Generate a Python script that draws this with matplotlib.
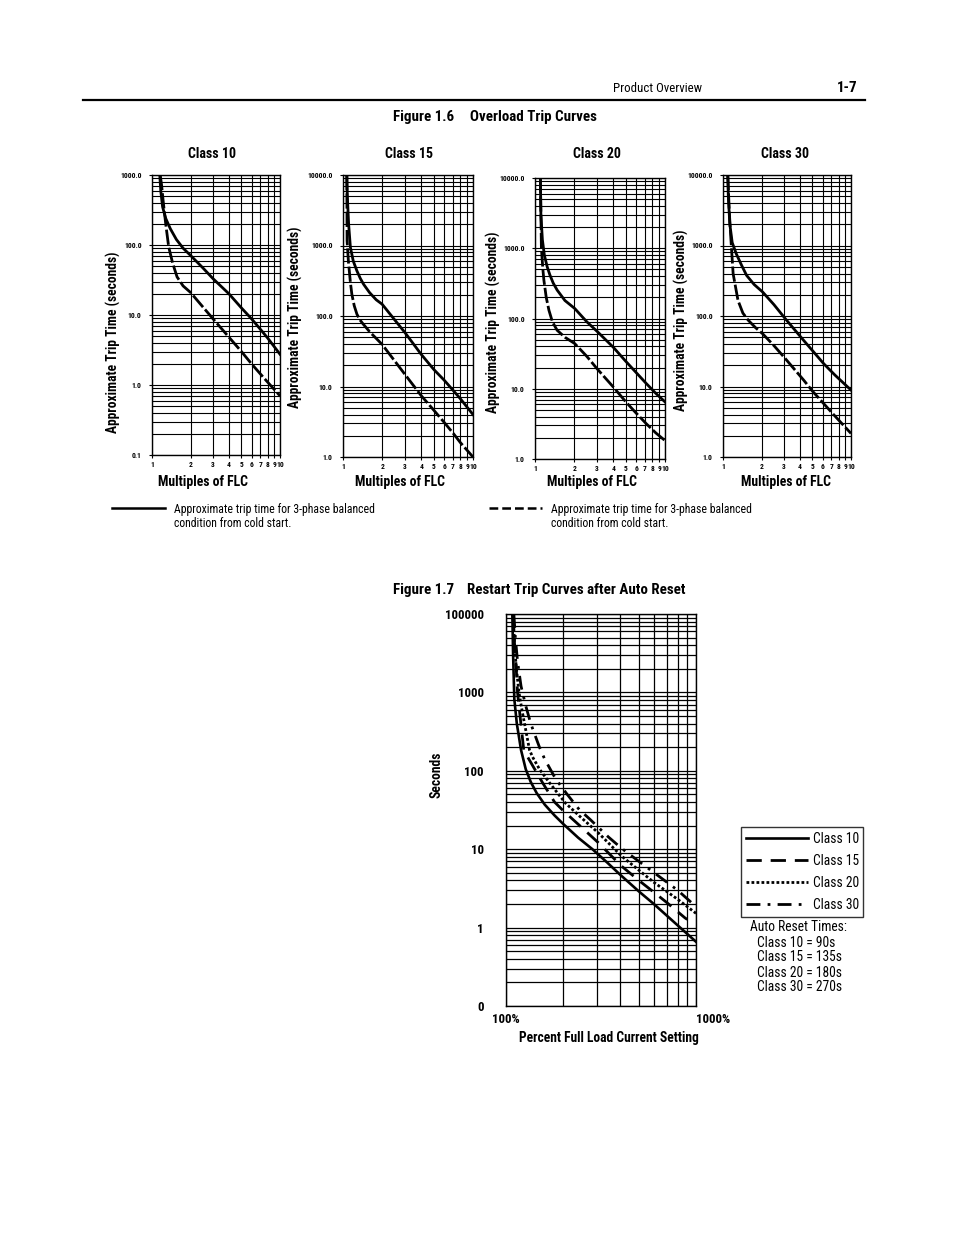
import matplotlib
matplotlib.use('Agg')
import matplotlib.pyplot as plt
from matplotlib import font_manager
from matplotlib.lines import Line2D
from matplotlib.ticker import LogLocator, NullFormatter, FixedLocator, FixedFormatter

# the scan uses a condensed Helvetica; take a narrow face if one is installed
installed = {f.name for f in font_manager.fontManager.ttflist}
narrow = [n for n in ['Liberation Sans Narrow', 'Roboto Condensed', 'DejaVu Sans Condensed',
                      'Open Sans Condensed', 'Noto Sans Condensed'] if n in installed]
if narrow:
    plt.rcParams['font.family'] = [narrow[0], 'DejaVu Sans']
    FS = 1.08
else:
    plt.rcParams['font.family'] = ['Liberation Sans', 'DejaVu Sans']
    FS = 0.86

# ---- Figure 1.6 data: (multiple of FLC, trip time s), cold = solid, hot = dashed
c10_cold_x = [1.15, 1.17, 1.21, 1.28, 1.39, 1.55, 1.75, 2.0, 2.5, 3.0, 4.0, 5.0, 6.0, 7.0, 8.0, 10.0]
c10_cold_y = [1000, 600, 350, 240, 171, 120, 90, 71, 47, 33, 20, 12.6, 8.8, 6.3, 4.7, 2.75]
c10_hot_x = [1.16, 1.19, 1.22, 1.28, 1.35, 1.45, 1.57, 1.75, 2.0, 2.5, 3.0, 4.0, 5.0, 6.0, 7.0, 8.0, 10.0]
c10_hot_y = [1000, 700, 440, 200, 94, 55, 35, 26, 21, 13, 8.8, 4.8, 3.0, 2.0, 1.45, 1.1, 0.70]

c15_cold_x = [1.07, 1.08, 1.105, 1.14, 1.2, 1.28, 1.36, 1.44, 1.6, 1.8, 2.0, 2.5, 3.0, 4.0, 5.0, 6.0, 7.0, 8.0, 10.0]
c15_cold_y = [10000, 5000, 2000, 940, 600, 436, 340, 282, 215, 170, 147, 88, 58, 28.5, 17.4, 12.3, 8.9, 6.7, 4.0]
c15_hot_x = [1.07, 1.075, 1.1, 1.14, 1.17, 1.22, 1.28, 1.35, 1.42, 1.6, 2.0, 2.5, 3.0, 4.0, 5.0, 6.0, 7.0, 8.0, 10.0]
c15_hot_y = [10000, 1170, 600, 300, 203, 140, 106, 88, 78, 60, 39.5, 23, 14.8, 7.4, 4.6, 3.1, 2.2, 1.6, 1.0]

c20_cold_x = [1.10, 1.11, 1.14, 1.18, 1.24, 1.3, 1.38, 1.48, 1.7, 2.02, 2.5, 3.03, 4.0, 5.0, 6.0, 7.2, 8.5, 10.0]
c20_cold_y = [10000, 3000, 1320, 800, 547, 420, 320, 254, 180, 139, 90, 64.6, 39, 24.5, 17, 11.8, 8.6, 6.5]
c20_hot_x = [1.10, 1.12, 1.15, 1.17, 1.22, 1.28, 1.36, 1.48, 1.7, 2.02, 2.5, 3.0, 4.0, 5.0, 6.0, 7.2, 8.5, 10.0]
c20_hot_y = [10000, 1000, 500, 353, 200, 131, 90, 68, 54, 44, 29, 19.3, 10.6, 6.5, 4.5, 3.16, 2.35, 1.83]

c30_cold_x = [1.09, 1.1, 1.13, 1.18, 1.27, 1.4, 1.53, 1.75, 2.04, 2.5, 3.06, 4.27, 5.0, 6.13, 7.5, 10.0]
c30_cold_y = [10000, 5000, 2026, 1100, 762, 520, 376, 280, 219, 145, 92, 45, 32.3, 21, 14.5, 8.9]
c30_hot_x = [1.09, 1.12, 1.15, 1.2, 1.31, 1.43, 1.57, 1.8, 2.04, 2.5, 3.06, 4.27, 5.0, 6.13, 7.5, 10.0]
c30_hot_y = [10000, 3000, 1313, 398, 166, 110, 87.6, 68, 56, 38, 25, 12.3, 8.6, 5.7, 3.8, 2.16]

small_titles = ['Class 10', 'Class 15', 'Class 20', 'Class 30']
small_ylims = [(0.1, 1000), (1, 10000), (1, 10000), (1, 10000)]
x_tick_vals = [1, 2, 3, 4, 5, 6, 7, 8, 9, 10]

# ---- Figure 1.7 data: (multiple of FLC, seconds) for restart curves
r10_x = [1.08, 1.09, 1.106, 1.14, 1.175, 1.2, 1.27, 1.35, 1.45, 1.6, 1.8, 2.0, 2.4, 2.85, 3.4, 4.0, 5.0, 6.0, 8.0, 10.0]
r10_y = [10000, 3000, 822, 400, 254, 184, 105, 72, 52, 37, 27, 21, 14, 10, 6.8, 4.7, 2.9, 2.0, 1.07, 0.66]
r15_x = [1.09, 1.11, 1.13, 1.15, 1.175, 1.24, 1.3, 1.4, 1.56, 1.8, 2.0, 2.5, 3.05, 4.05, 5.0, 6.03, 7.0, 8.75, 9.0]
r15_y = [10000, 4000, 2190, 1000, 612, 184, 150, 110, 70, 40, 31, 19, 12.2, 6.1, 4.0, 2.8, 2.1, 1.33, 1.27]
r20_x = [1.09, 1.11, 1.13, 1.17, 1.22, 1.33, 1.38, 1.5, 1.69, 2.05, 2.5, 3.05, 4.05, 5.0, 6.03, 8.0, 10.0]
r20_y = [10000, 4000, 2190, 1000, 555, 184, 150, 105, 71, 39, 25, 16.3, 8.2, 5.4, 3.75, 2.3, 1.52]
r30_x = [1.10, 1.12, 1.15, 1.2, 1.27, 1.35, 1.5, 1.6, 1.83, 2.1, 2.43, 2.77, 3.45, 4.05, 5.0, 6.03, 8.0, 10.0]
r30_y = [10000, 5000, 2500, 1200, 676, 400, 200, 140, 78, 50, 32, 24, 14.4, 10.3, 7.0, 5.0, 3.0, 1.85]
restart_labels = ['Class 10', 'Class 15', 'Class 20', 'Class 30']
restart_ytick_vals = [0.1, 1, 10, 100, 1000, 10000]
restart_ytick_text = ['0', '1', '10', '100', '1000', '100000']
reset_times = ['Class 10 = 90s', 'Class 15 = 135s', 'Class 20 = 180s', 'Class 30 = 270s']

W, H = 954, 1235


def box(l, t, r, b):
    """pixel box -> figure fraction rect"""
    return [l / W, 1 - b / H, (r - l) / W, (b - t) / H]


def fx(x):
    return x / W


def fy(y):
    return 1 - y / H


fig = plt.figure(figsize=(W / 100, H / 100), dpi=100)
fig.patch.set_facecolor('white')

# header
fig.text(fx(613), fy(88), 'Product Overview', fontsize=8.6 * FS, ha='left', va='center')
fig.text(fx(858), fy(88), '1-7', fontsize=10 * FS, fontweight='bold', ha='right', va='center')
fig.add_artist(Line2D([fx(83), fx(865)], [fy(100), fy(100)], color='black', lw=1.6))

fig.text(fx(393), fy(117), 'Figure 1.6', fontsize=10 * FS, fontweight='bold', ha='left', va='center')
fig.text(fx(470), fy(117), 'Overload Trip Curves', fontsize=10 * FS, fontweight='bold',
         ha='left', va='center')

small_boxes = [(152, 175, 280, 455), (343, 175, 473, 457), (535, 178, 665, 459), (723, 175, 851, 457)]
title_x = [212, 409, 597, 785]
ylab_x = [113, 295, 493, 681]
ylab_y = [342, 317, 322, 320]
flc_x = [203, 400, 592, 786]

cold_sets = [(c10_cold_x, c10_cold_y), (c15_cold_x, c15_cold_y), (c20_cold_x, c20_cold_y), (c30_cold_x, c30_cold_y)]
hot_sets = [(c10_hot_x, c10_hot_y), (c15_hot_x, c15_hot_y), (c20_hot_x, c20_hot_y), (c30_hot_x, c30_hot_y)]

for i in range(4):
    ax = fig.add_axes(box(*small_boxes[i]))
    ax.set_xscale('log')
    ax.set_yscale('log')
    ax.set_xlim(1, 10)
    ax.set_ylim(*small_ylims[i])

    cx, cy = cold_sets[i]
    hx, hy = hot_sets[i]
    ax.plot(cx, cy, color='black', lw=2.0, solid_joinstyle='round')
    ax.plot(hx, hy, color='black', lw=2.0, dashes=(5.5, 1.1))

    # grid: decades + 2..9
    lo, hi = small_ylims[i]
    ax.yaxis.set_minor_locator(LogLocator(base=10, subs=range(2, 10), numticks=20))
    ax.yaxis.set_minor_formatter(NullFormatter())
    dec = [lo * 10 ** k for k in range(5)]
    ax.set_yticks(dec)
    ax.set_yticklabels(['%.1f' % d for d in dec])
    ax.xaxis.set_major_locator(FixedLocator(x_tick_vals))
    ax.xaxis.set_major_formatter(FixedFormatter([str(v) for v in x_tick_vals]))
    ax.xaxis.set_minor_formatter(NullFormatter())
    ax.xaxis.set_minor_locator(FixedLocator([]))
    ax.grid(True, which='both', axis='y', color='black', lw=0.8)
    ax.grid(True, which='major', axis='x', color='black', lw=0.8)
    ax.tick_params(axis='y', which='major', length=2.5, width=0.8, labelsize=5.0 * FS, pad=5)
    ax.tick_params(axis='x', which='major', length=2.5, width=0.8, labelsize=5.0 * FS, pad=2)
    ax.tick_params(which='minor', length=0)
    for lab in ax.get_xticklabels() + ax.get_yticklabels():
        lab.set_fontweight('bold')
    for s in ax.spines.values():
        s.set_linewidth(1.0)

    fig.text(fx(title_x[i]), fy(154), small_titles[i], fontsize=9.3 * FS, fontweight='bold',
             ha='center', va='center')
    fig.text(fx(ylab_x[i]), fy(ylab_y[i]), 'Approximate Trip Time (seconds)', fontsize=9 * FS,
             fontweight='bold', rotation=90, ha='center', va='center')
    fig.text(fx(flc_x[i]), fy(482), 'Multiples of FLC', fontsize=9.2 * FS, fontweight='bold',
             ha='center', va='center')

# legend row under the small charts
fig.add_artist(Line2D([fx(112), fx(165)], [fy(508), fy(508)], color='black', lw=1.8))
fig.add_artist(Line2D([fx(489), fx(542)], [fy(508), fy(508)], color='black', lw=1.8,
                      dashes=(3.5, 1.6)))
for lx in (174, 551):
    fig.text(fx(lx), fy(510), 'Approximate trip time for 3-phase balanced', fontsize=7.8 * FS,
             ha='left', va='center')
    fig.text(fx(lx), fy(524), 'condition from cold start.', fontsize=7.8 * FS,
             ha='left', va='center')

# ---- Figure 1.7
fig.text(fx(393), fy(590), 'Figure 1.7', fontsize=10 * FS, fontweight='bold', ha='left', va='center')
fig.text(fx(467), fy(590), 'Restart Trip Curves after Auto Reset', fontsize=10 * FS,
         fontweight='bold', ha='left', va='center')

ax2 = fig.add_axes(box(506, 614, 696, 1006))
ax2.set_xscale('log')
ax2.set_yscale('log')
ax2.set_xlim(1, 10)
ax2.set_ylim(0.1, 10000)

l10, = ax2.plot(r10_x, r10_y, color='black', lw=1.9, label=restart_labels[0])
l15, = ax2.plot(r15_x, r15_y, color='black', lw=2.0, dashes=(5.5, 3.2), label=restart_labels[1])
l20, = ax2.plot(r20_x, r20_y, color='black', lw=2.0, dashes=(1.0, 0.8), label=restart_labels[2])
l30, = ax2.plot(r30_x, r30_y, color='black', lw=2.0, dashes=(5, 2.6, 1, 2.6), label=restart_labels[3])

ax2.yaxis.set_major_locator(FixedLocator(restart_ytick_vals))
ax2.yaxis.set_major_formatter(FixedFormatter(restart_ytick_text))
ax2.yaxis.set_minor_locator(LogLocator(base=10, subs=range(2, 10), numticks=20))
ax2.yaxis.set_minor_formatter(NullFormatter())
ax2.xaxis.set_major_locator(FixedLocator(x_tick_vals))
ax2.xaxis.set_major_formatter(FixedFormatter(['100%', '', '', '', '', '', '', '', '', '1000%']))
ax2.xaxis.set_minor_locator(FixedLocator([]))
ax2.grid(True, which='both', axis='y', color='black', lw=0.9)
ax2.grid(True, which='major', axis='x', color='black', lw=0.9)
ax2.tick_params(axis='y', which='major', length=0, labelsize=8.6 * FS, pad=16)
ax2.tick_params(axis='x', which='major', length=0, labelsize=8.6 * FS, pad=5)
ax2.tick_params(which='minor', length=0)
for lab in ax2.get_xticklabels() + ax2.get_yticklabels():
    lab.set_fontweight('bold')
ax2.get_xticklabels()[-1].set_horizontalalignment('left')
for s in ax2.spines.values():
    s.set_linewidth(1.0)

fig.text(fx(437), fy(775), 'Seconds', fontsize=9 * FS, fontweight='bold', rotation=90,
         ha='center', va='center')
fig.text(fx(609), fy(1038), 'Percent Full Load Current Setting', fontsize=9 * FS,
         fontweight='bold', ha='center', va='center')

leg = ax2.legend(handles=[l10, l15, l20, l30], loc='upper left',
                 bbox_to_anchor=(fx(741), fy(827)), bbox_transform=fig.transFigure,
                 fontsize=9 * FS, frameon=True, fancybox=False, edgecolor='black',
                 handlelength=4.6, handletextpad=0.35, labelspacing=0.6,
                 borderpad=0.35, borderaxespad=0)
leg.get_frame().set_linewidth(1.0)

fig.text(fx(750), fy(927), 'Auto Reset Times:', fontsize=9 * FS, ha='left', va='center')
for k, yy in enumerate([943, 957, 973, 987]):
    fig.text(fx(757), fy(yy), reset_times[k], fontsize=9 * FS, ha='left', va='center')

fig.savefig('out.png', dpi=100, facecolor='white')
